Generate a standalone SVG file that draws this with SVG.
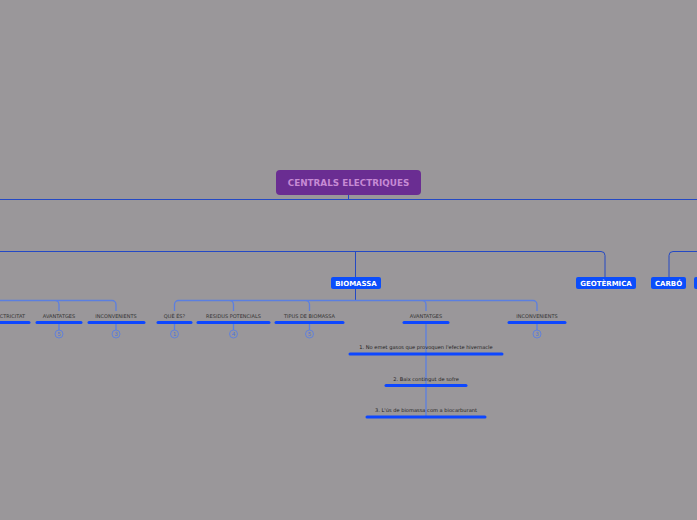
<svg xmlns="http://www.w3.org/2000/svg" width="697" height="520" viewBox="0 0 697 520">
<style>
.main{stroke:#2449c4;stroke-width:1;fill:none}
.sub{stroke:#5b7fe0;stroke-width:1.3;fill:none}
.ul{stroke:#0d47ff;stroke-width:3;stroke-linecap:round}
.tn{fill:#0b4dfb}
.tt{font-family:"DejaVu Sans",Verdana,sans-serif;font-weight:bold;font-size:7px;fill:#ffffff;text-anchor:middle}
.ct{font-family:"DejaVu Sans",Verdana,sans-serif;font-size:5px;fill:#333333;text-anchor:middle}
.st{font-family:"DejaVu Sans",Verdana,sans-serif;font-size:5.1px;fill:#222222;text-anchor:middle}
.bd{fill:none;stroke:#5b7fe0;stroke-width:0.9}
.bt{font-family:"DejaVu Sans",Verdana,sans-serif;font-size:5.6px;fill:#4e73dc;text-anchor:middle}
</style>
<rect width="697" height="520" fill="#9a979a"/>
<g id="connectors">
<path class="main" d="M0 199.5H697M348.5 195V199.5"/>
<path class="main" d="M0 251.5H601a4 4 0 0 1 4 4V277M355.5 251.5V277M355.5 289V300"/>
<path class="main" d="M697 251.5H673a4 4 0 0 0 -4 4V277"/>
<path class="sub" d="M0 300.5H55a4 4 0 0 1 4 4V311M55 300.5H112a4 4 0 0 1 4 4V311M59 323V330M116 323V330"/>
<path class="sub" d="M178.5 300.5H533a4 4 0 0 1 4 4V311M178.5 300.5a4 4 0 0 0 -4 4V311M229.5 300.5a4 4 0 0 1 4 4V311M305.5 300.5a4 4 0 0 1 4 4V311M422 300.5a4 4 0 0 1 4 4V311"/>
<path class="sub" d="M174.5 323V330M233.5 323V330M309.5 323V330M537 323V330M426 323V417"/>
</g>
<g id="root">
<rect x="276" y="170" width="145" height="25" rx="4" fill="#6a2d92"/>
<text x="348.5" y="186" font-family="DejaVu Sans,Verdana,sans-serif" font-weight="bold" font-size="8.8" fill="#c68ad4" text-anchor="middle">CENTRALS ELECTRIQUES</text>
</g>
<g id="biomassa"><rect class="tn" x="331" y="277" width="50" height="12" rx="2"/><text class="tt" x="356" y="285.5">BIOMASSA</text></g>
<g id="geotermica"><rect class="tn" x="576" y="277" width="60" height="12" rx="2"/><text class="tt" x="606" y="285.5">GEOTÈRMICA</text></g>
<g id="carbo"><rect class="tn" x="651" y="277" width="35" height="12" rx="2"/><text class="tt" x="668.5" y="285.5">CARBÓ</text></g>
<g id="next"><rect class="tn" x="694" y="277" width="40" height="12" rx="2"/></g>
<g id="l-electricitat"><text class="ct" x="25" y="317.5" style="text-anchor:end">ELECTRICITAT</text><line class="ul" x1="-5" y1="322.5" x2="29" y2="322.5"/></g>
<g id="l-avantatges"><text class="ct" x="59" y="317.5">AVANTATGES</text><line class="ul" x1="37" y1="322.5" x2="81" y2="322.5"/><circle class="bd" cx="59" cy="334" r="4"/><text class="bt" x="59" y="336">5</text></g>
<g id="l-inconvenients"><text class="ct" x="116" y="317.5">INCONVENIENTS</text><line class="ul" x1="89" y1="322.5" x2="144" y2="322.5"/><circle class="bd" cx="116" cy="334" r="4"/><text class="bt" x="116" y="336">3</text></g>
<g id="que-es"><text class="ct" x="174.5" y="317.5">QUÈ ÉS?</text><line class="ul" x1="158" y1="322.5" x2="191" y2="322.5"/><circle class="bd" cx="174.5" cy="334" r="4"/><text class="bt" x="174.5" y="336">1</text></g>
<g id="residus"><text class="ct" x="233.5" y="317.5">RESIDUS POTENCIALS</text><line class="ul" x1="198" y1="322.5" x2="269" y2="322.5"/><circle class="bd" cx="233.5" cy="334" r="4"/><text class="bt" x="233.5" y="336">4</text></g>
<g id="tipus"><text class="ct" x="309.5" y="317.5">TIPUS DE BIOMASSA</text><line class="ul" x1="276" y1="322.5" x2="343" y2="322.5"/><circle class="bd" cx="309.5" cy="334" r="4"/><text class="bt" x="309.5" y="336">5</text></g>
<g id="b-avantatges"><text class="ct" x="426" y="317.5">AVANTATGES</text><line class="ul" x1="404" y1="322.5" x2="448" y2="322.5"/></g>
<g id="b-inconvenients"><text class="ct" x="537" y="317.5">INCONVENIENTS</text><line class="ul" x1="509" y1="322.5" x2="565" y2="322.5"/><circle class="bd" cx="537" cy="334" r="4"/><text class="bt" x="537" y="336">3</text></g>
<g id="av1"><text class="st" x="426" y="349">1. No emet gasos que provoquen l'efecte hivernacle</text><line class="ul" x1="350" y1="354" x2="502" y2="354"/></g>
<g id="av2"><text class="st" x="426" y="381">2. Baix contingut de sofre</text><line class="ul" x1="386" y1="385.5" x2="466" y2="385.5"/></g>
<g id="av3"><text class="st" x="426" y="412">3. L'ús de biomassa com a biocarburant</text><line class="ul" x1="367" y1="417" x2="485" y2="417"/></g>
</svg>
